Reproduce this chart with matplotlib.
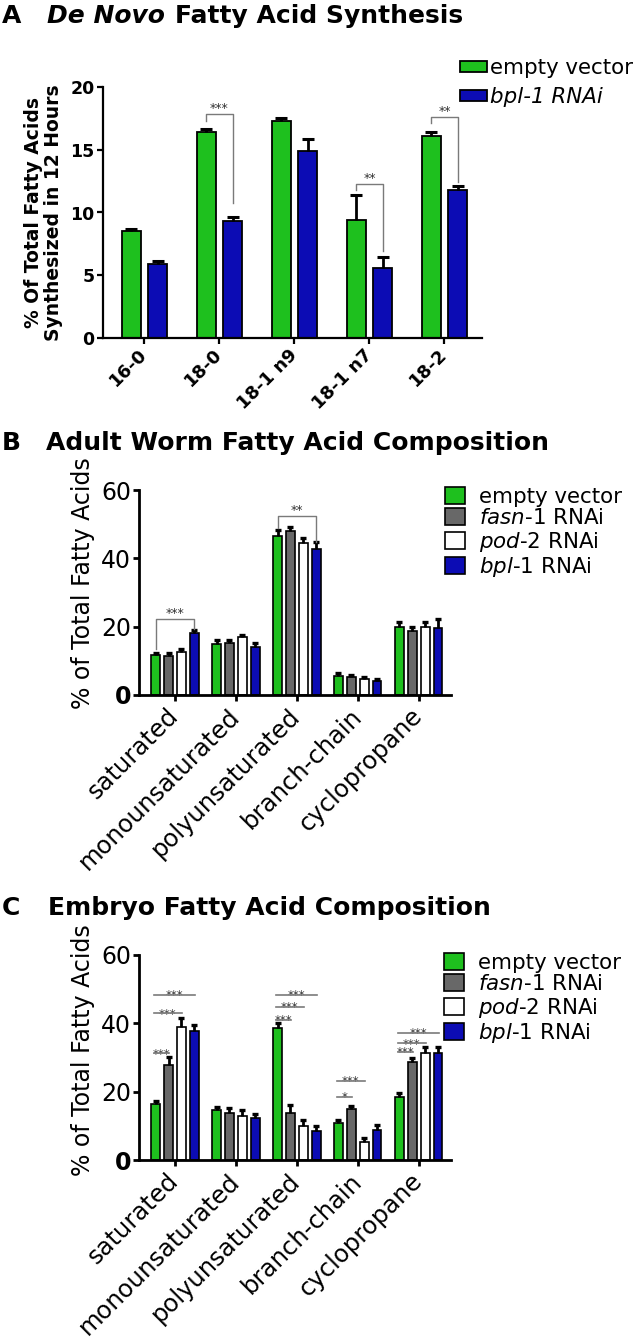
import matplotlib
matplotlib.use('Agg')
import matplotlib.pyplot as plt
import numpy as np
from matplotlib.transforms import ScaledTranslation

plt.rcParams['font.family'] = ['DejaVu Sans']
plt.rcParams['mathtext.fontset'] = 'dejavusans'

# ---------------- Panel A data ----------------
a_categories = ['16-0', '18-0', '18-1 n9', '18-1 n7', '18-2']
a_series = ['empty vector', 'bpl-1 RNAi']
a_empty_vector = [8.5, 16.4, 17.3, 9.4, 16.1]
a_empty_vector_err = [0.15, 0.25, 0.2, 2.0, 0.3]
a_bpl1 = [5.9, 9.35, 14.9, 5.55, 11.8]
a_bpl1_err = [0.2, 0.32, 0.95, 0.93, 0.3]
a_yticks = [0, 5, 10, 15, 20]

a_sig_group = [1, 3, 4]
a_sig_y = [17.85, 12.27, 17.63]
a_sig_left_end = [17.3, 11.8, 17.1]
a_sig_right_end = [10.73, 6.9, 12.45]
a_sig_label = ['***', '**', '**']

# ---------------- Panel B / C data ----------------
comp_categories = ['saturated', 'monounsaturated', 'polyunsaturated',
                   'branch-chain', 'cyclopropane']
comp_series = ['empty vector', r'$\mathit{fasn}$-$\mathit{1}$ RNAi',
               r'$\mathit{pod}$-2 RNAi', r'$\mathit{bpl}$-$\mathit{1}$ RNAi']
comp_yticks = [0, 20, 40, 60]

b_empty_vector = [11.7, 14.9, 46.4, 5.7, 20.0]
b_empty_vector_err = [0.7, 1.2, 2.0, 0.7, 1.5]
b_fasn1 = [11.5, 15.1, 47.9, 5.3, 18.7]
b_fasn1_err = [0.7, 1.0, 1.4, 0.6, 1.3]
b_pod2 = [12.7, 16.9, 44.6, 4.8, 20.0]
b_pod2_err = [0.8, 0.7, 1.3, 0.6, 1.3]
b_bpl1 = [18.2, 14.1, 42.6, 4.0, 19.7]
b_bpl1_err = [0.9, 1.1, 2.3, 0.6, 2.4]

b_sig_group = [0, 2]
b_sig_y = [22.1, 52.4]
b_sig_left_end = [13.6, 48.8]
b_sig_right_end = [19.3, 44.9]
b_sig_label = ['***', '**']

c_empty_vector = [16.3, 14.7, 38.6, 10.7, 18.5]
c_empty_vector_err = [1.0, 0.9, 1.6, 1.0, 1.0]
c_fasn1 = [27.7, 13.9, 13.9, 15.0, 28.6]
c_fasn1_err = [2.5, 1.2, 2.2, 0.9, 1.2]
c_pod2 = [39.0, 12.9, 9.9, 5.4, 31.4]
c_pod2_err = [2.5, 1.7, 1.9, 0.9, 1.8]
c_bpl1 = [37.9, 12.4, 8.6, 8.7, 31.4]
c_bpl1_err = [1.7, 1.1, 1.4, 1.6, 1.8]

c_sig_group = [0, 0, 0, 2, 2, 2, 3, 3, 4, 4, 4]
c_sig_target = [1, 2, 3, 1, 2, 3, 1, 2, 1, 2, 3]
c_sig_y = [31.2, 42.9, 48.3, 41.0, 44.9, 48.3, 18.5, 23.2, 31.6, 34.1, 37.3]
c_sig_label = ['***', '***', '***', '***', '***', '***', '*', '***', '***', '***', '***']

GREEN = '#1ec01e'
BLUE = '#0c0cb4'
GRAY = '#686868'
WHITE = '#ffffff'
SIGC = '#7a7a7a'

W, H = 633, 1342
fig = plt.figure(figsize=(W / 100, H / 100), dpi=100)


def px_axes(left, right, top, bottom):
    return fig.add_axes([left / W, 1 - bottom / H, (right - left) / W, (bottom - top) / H])


def err_bars(ax, x, vals, errs, lw, cs, ct):
    eb = ax.errorbar(x, vals, yerr=[np.zeros(len(vals)), errs], fmt='none',
                     ecolor='black', elinewidth=lw, capsize=cs, capthick=ct, zorder=3)
    eb[1][0].set_visible(False)


def shift_labels(labels, dx, dy):
    for lab in labels:
        lab.set_transform(lab.get_transform() + ScaledTranslation(dx / 100, -dy / 100, fig.dpi_scale_trans))


# ================= Panel A =================
axA = px_axes(103, 482, 87, 338)
xa = np.arange(len(a_categories))
offA = 0.175
wA = 0.255
bA1 = axA.bar(xa - offA, a_empty_vector, wA, color=GREEN, edgecolor='black', linewidth=1.3, zorder=2)
bA2 = axA.bar(xa + offA, a_bpl1, wA, color=BLUE, edgecolor='black', linewidth=1.3, zorder=2)
err_bars(axA, xa - offA, a_empty_vector, a_empty_vector_err, 2.0, 4.5, 2.2)
err_bars(axA, xa + offA, a_bpl1, a_bpl1_err, 2.0, 4.5, 2.2)
axA.set_xlim(-0.553, 4.5)
axA.set_ylim(0, 20)
axA.set_yticks(a_yticks)
axA.set_yticklabels([str(v) for v in a_yticks], fontsize=12.5, fontweight='bold')
axA.set_xticks(xa)
axA.set_xticklabels(a_categories, fontsize=13, fontweight='bold', rotation=45,
                    ha='right', va='center', rotation_mode='anchor')
shift_labels(axA.get_xticklabels(), 6, 9)
for s in ['top', 'right']:
    axA.spines[s].set_visible(False)
for s in ['left', 'bottom']:
    axA.spines[s].set_linewidth(1.6)
axA.tick_params(direction='out', length=4, width=1.6, pad=2)
axA.tick_params(axis='x', pad=6)
axA.set_ylabel('% Of Total Fatty Acids\nSynthesized in 12 Hours', fontsize=13.5,
               fontweight='bold', linespacing=1.05)
axA.yaxis.set_label_coords(-0.105, 0.5)

for g, yh, yl, yr, lab in zip(a_sig_group, a_sig_y, a_sig_left_end, a_sig_right_end, a_sig_label):
    xl, xr = g - offA, g + offA
    axA.plot([xl, xl, xr, xr], [yl, yh, yh, yr], color=SIGC, lw=1.0, zorder=4)
    axA.annotate(lab, xy=((xl + xr) / 2, yh), xytext=(0, 1.5), textcoords='offset points',
                 ha='center', va='baseline', fontsize=9, color='#333333')

legA = axA.legend([bA1, bA2], a_series, loc='upper left', bbox_to_anchor=(460 / W, 1 - 58 / H),
                  bbox_transform=fig.transFigure, frameon=False, borderpad=0, borderaxespad=0,
                  handlelength=1.26, handleheight=0.37, handletextpad=0.12, labelspacing=0.42,
                  fontsize=15.4)
legA.get_texts()[1].set_fontstyle('italic')


# ================= Panels B / C =================
def comp_panel(top, bottom, series_vals, series_errs, ylabel_y):
    ax = px_axes(139, 451, top, bottom)
    x = np.arange(len(comp_categories))
    pitch = 0.211
    width = 0.144
    colors = [GREEN, GRAY, WHITE, BLUE]
    handles = []
    for i, (vals, errs, col) in enumerate(zip(series_vals, series_errs, colors)):
        xi = x + (i - 1.5) * pitch
        h = ax.bar(xi, vals, width, color=col, edgecolor='black', linewidth=1.2, zorder=2)
        handles.append(h)
        err_bars(ax, xi, vals, errs, 2.0, 2.3, 2.4)
    ax.set_xlim(-0.59, 4.53)
    ax.set_ylim(0, 60)
    ax.set_yticks(comp_yticks)
    tl = ax.set_yticklabels([str(v) for v in comp_yticks], fontsize=17)
    tl[0].set_fontweight('bold')
    ax.set_xticks(x)
    ax.set_xticklabels(comp_categories, fontsize=17.5, rotation=45,
                       ha='right', va='center', rotation_mode='anchor')
    shift_labels(ax.get_xticklabels(), 2, 4)
    for s in ['top', 'right']:
        ax.spines[s].set_visible(False)
    for s in ['left', 'bottom']:
        ax.spines[s].set_linewidth(2.0)
    ax.tick_params(direction='out', length=4.5, width=2.0, pad=1)
    ax.tick_params(axis='x', pad=8)
    ax.set_ylabel('% of Total Fatty Acids', fontsize=17)
    ax.yaxis.set_label_coords(-0.141, ylabel_y)
    return ax, handles, pitch


def comp_legend(ax, handles, x_px, top_px):
    ax.legend(handles, comp_series, loc='upper left', bbox_to_anchor=(x_px / W, 1 - top_px / H),
              bbox_transform=fig.transFigure, frameon=False, borderpad=0, borderaxespad=0,
              handlelength=0.93, handleheight=0.84, handletextpad=0.65, labelspacing=0.06,
              fontsize=15.4)


axB, hB, pitch = comp_panel(490, 695,
                            [b_empty_vector, b_fasn1, b_pod2, b_bpl1],
                            [b_empty_vector_err, b_fasn1_err, b_pod2_err, b_bpl1_err], 0.545)
for g, yh, yl, yr, lab in zip(b_sig_group, b_sig_y, b_sig_left_end, b_sig_right_end, b_sig_label):
    xl, xr = g - 1.5 * pitch, g + 1.5 * pitch
    axB.plot([xl, xl, xr, xr], [yl, yh, yh, yr], color=SIGC, lw=1.0, zorder=4)
    axB.annotate(lab, xy=((xl + xr) / 2, yh), xytext=(0, 1.5), textcoords='offset points',
                 ha='center', va='baseline', fontsize=9, color='#333333')
comp_legend(axB, hB, 445, 487)

axC, hC, pitch = comp_panel(955, 1160,
                            [c_empty_vector, c_fasn1, c_pod2, c_bpl1],
                            [c_empty_vector_err, c_fasn1_err, c_pod2_err, c_bpl1_err], 0.537)
for g, t, yh, lab in zip(c_sig_group, c_sig_target, c_sig_y, c_sig_label):
    xl = g - 1.5 * pitch - 0.03
    xr = g + (t - 1.5) * pitch + 0.01
    axC.plot([xl, xr], [yh, yh], color=SIGC, lw=1.2, zorder=4)
    axC.annotate(lab, xy=((xl + xr) / 2, yh), xytext=(0, -3.0), textcoords='offset points',
                 ha='center', va='baseline', fontsize=8.5, color='#333333')
comp_legend(axC, hC, 444, 953)


# ================= Titles =================
def title(base_y, parts):
    for txt, style, xpos in parts:
        fig.text(xpos / W, 1 - base_y / H, txt, fontsize=18, fontweight='bold', fontstyle=style,
                 va='baseline', ha='left')


title(23, [('A', 'normal', 2), ('De Novo', 'italic', 47), ('Fatty Acid Synthesis', 'normal', 175)])
title(450, [('B', 'normal', 2), ('Adult Worm Fatty Acid Composition', 'normal', 46)])
title(915, [('C', 'normal', 2), ('Embryo Fatty Acid Composition', 'normal', 48)])

fig.savefig('out.png', dpi=100)
